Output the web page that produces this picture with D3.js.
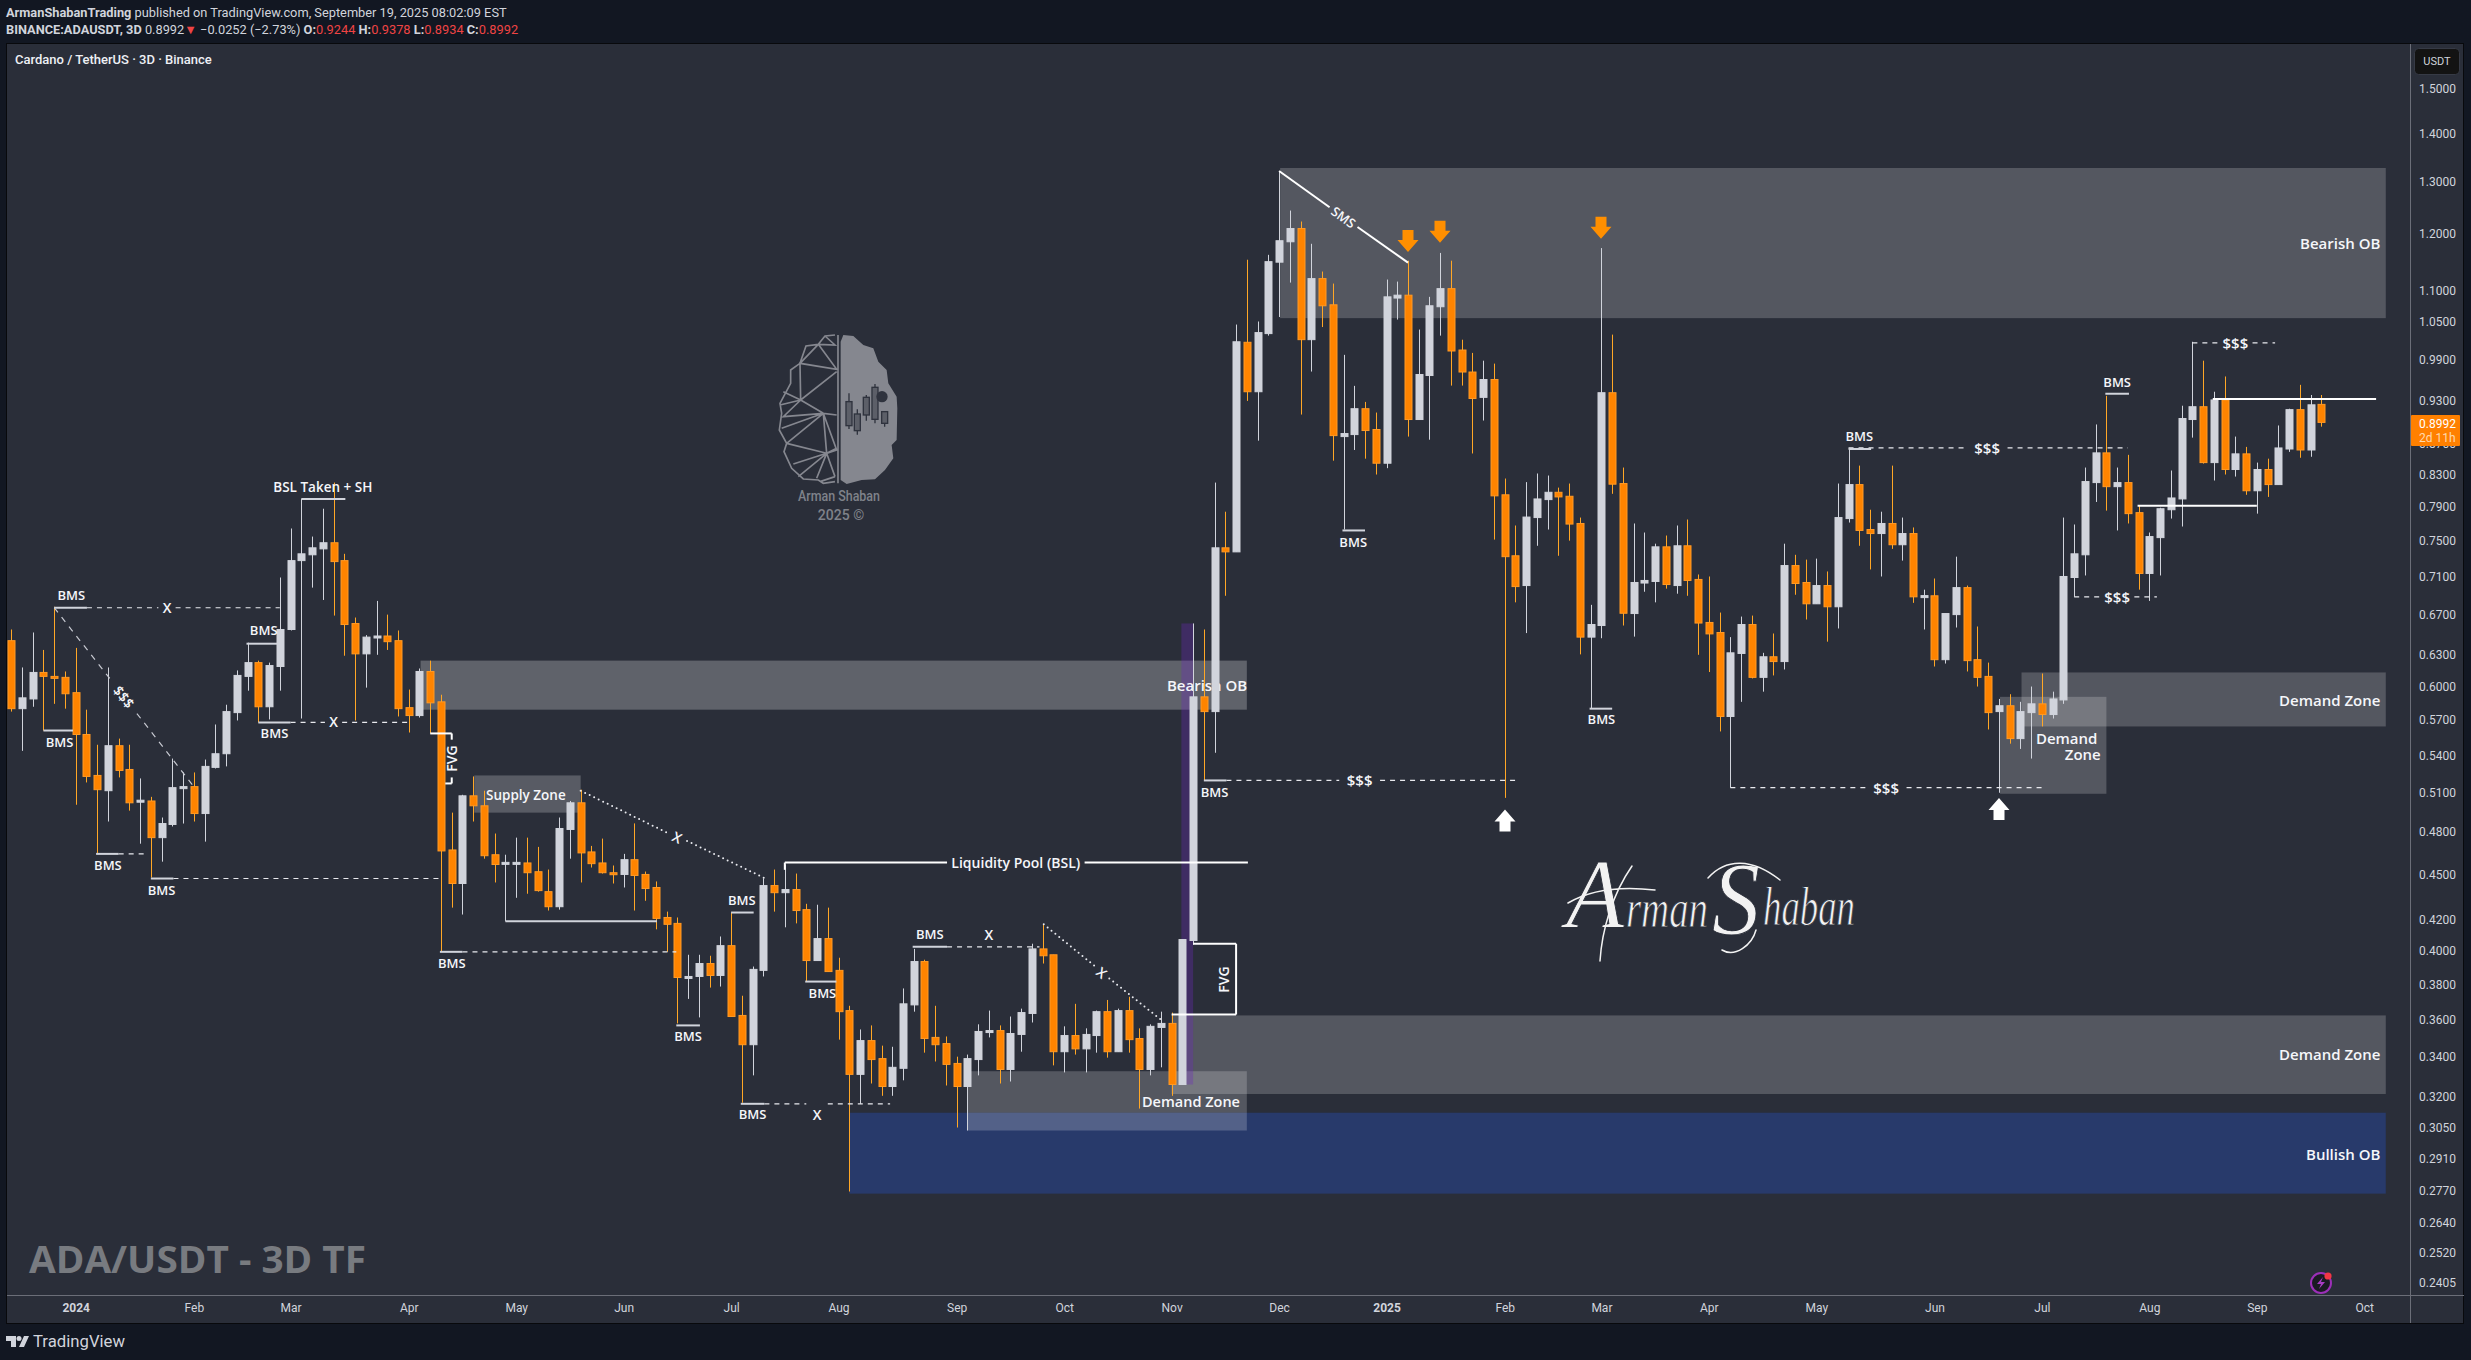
<!DOCTYPE html>
<html><head><meta charset="utf-8">
<script src="https://cdn.jsdelivr.net/npm/d3@7"></script>
<style>
html,body{margin:0;padding:0;background:#121722;overflow:hidden}
svg{display:block}
text{font-family:Roboto,sans-serif}
.lbl{font-family:"Open Sans",sans-serif;font-weight:600;fill:#f5f6fa}
.axis text{fill:#d1d4dc;font-size:12px;font-family:Roboto,sans-serif}
.axis path,.axis line{display:none}
</style></head><body>
<svg id="c" width="2471" height="1360"></svg>
<script>
const opens=[.6436,.5799,.5886,.6130,.6093,.6084,.5943,.5574,.5235,.5114,
.5479,.5283,.5034,.5034,.4759,.4856,.5130,.5146,.4938,.5300,
.5412,.5764,.6093,.6223,.5816,.6186,.6547,.7276,.7341,.7408,
.7478,.7276,.6607,.6307,.6478,.6482,.6436,.5808,.5738,.6139,
.5860,.4670,.4436,.5074,.4997,.4636,.4578,.4578,.4578,.4517,
.4381,.4281,.4819,.5020,.4656,.4578,.4510,.4498,.4601,.4498,
.4409,.4211,.4173,.3845,.3847,.3924,.3853,.4033,.3624,.3465,
.3883,.4422,.4374,.4395,.4262,.3942,.4077,.3883,.3651,.3311,
.3487,.3392,.3250,.3342,.3683,.3936,.3504,.3471,.3367,.3250,
.3387,.3536,.3541,.3336,.3520,.3635,.4013,.3977,.3428,.3514,
.3443,.3514,.3645,.3428,.3651,.3498,.3336,.3558,.3580,.3260,
.4065,.5905,.5773,.7420,.7374,1.0167,.9425,1.0303,1.1495,1.1860,
1.2103,1.0208,1.1209,1.0768,.8799,.8826,.9183,.8895,.8447,1.0880,
1.0928,.9032,.9662,1.0736,1.1038,1.0047,.9714,.9344,.9603,.8048,
.7330,.7003,.7772,.7989,.8079,.8030,.7702,.6471,.6587,.9411,
.8188,.6709,.7030,.7047,.7431,.7003,.7443,.7069,.6618,.6517,
.5730,.6311,.6597,.6084,.6279,.6233,.7221,.7036,.6810,.7003,
.6779,.7760,.8175,.7631,.7584,.7702,.7455,.7584,.6890,.6894,
.6251,.6698,.6981,.6251,.6093,.5773,.5825,.5539,.5764,.5842,
.5747,.5877,.7090,.7341,.8200,.8582,.8149,.8200,.7831,.7134,
.7537,.7866,.7997,.9032,.9211,.8455,.9307,.8366,.8569,.8098,
.8366,.8175,.8633,.9170,.8620,.9244];
const closes=[.5799,.5896,.6130,.6093,.6085,.5933,.5574,.5227,.5122,.5479,
.5275,.5020,.5040,.4759,.4863,.5138,.5146,.4938,.5308,.5412,
.5773,.6102,.6223,.5816,.6195,.6547,.7276,.7352,.7420,.7478,
.7265,.6597,.6307,.6471,.6482,.6426,.5799,.5738,.6139,.5851,
.4663,.4436,.5074,.4997,.4629,.4567,.4582,.4582,.4510,.4388,
.4281,.4826,.5020,.4649,.4573,.4510,.4498,.4601,.4491,.4402,
.4205,.4167,.3841,.3847,.3924,.3853,.4033,.3618,.3465,.3889,
.4422,.4374,.4395,.4256,.3942,.4077,.3876,.3645,.3311,.3487,
.3387,.3250,.3347,.3689,.3936,.3498,.3465,.3362,.3250,.3392,
.3536,.3541,.3336,.3525,.3640,.4013,.3971,.3428,.3514,.3443,
.3520,.3645,.3428,.3651,.3492,.3336,.3564,.3580,.3260,.4071,
.5905,.5773,.7420,.7374,1.0175,.9425,1.0319,1.1504,1.1879,1.2103,
1.0208,1.1209,1.0752,.8812,.8840,.9183,.8881,.8447,1.0900,1.0928,
.9032,.9677,1.0752,1.1038,1.0032,.9714,.9328,.9603,.8035,.7320,
.6992,.7778,.7997,.8079,.8022,.7695,.6471,.6597,.9411,.8180,
.6712,.7036,.7058,.7431,.7014,.7443,.7058,.6612,.6503,.5730,
.6317,.6597,.6084,.6279,.6233,.7221,.7025,.6810,.7003,.6779,
.7772,.8175,.7620,.7584,.7702,.7455,.7584,.6883,.6896,.6251,
.6709,.6981,.6242,.6084,.5764,.5825,.5539,.5773,.5842,.5747,
.5886,.7101,.7352,.8213,.8582,.8149,.8200,.7819,.7134,.7549,
.7878,.8009,.9046,.9211,.8455,.9307,.8366,.8569,.8098,.8366,
.8175,.8647,.9170,.8620,.9238,.8992];
const highs=[.6547,.6177,.6517,.6345,.6779,.6139,.6365,.5790,.5487,.6177,
.5539,.5487,.5211,.5066,.4908,.5372,.5259,.5259,.5364,.5660,
.5834,.6149,.6416,.6242,.6223,.7090,.7643,.7997,.7549,.7878,
.8200,.7352,.6668,.6491,.6840,.6698,.6537,.5971,.6167,.6242,
.5924,.4945,.5082,.5227,.5114,.4789,.4636,.4759,.4759,.4692,
.4532,.4908,.5034,.5122,.4699,.4752,.4560,.4642,.4864,.4518,
.4450,.4249,.4211,.3977,.3977,.3971,.4090,.4243,.3735,.3906,
.4470,.4532,.4567,.4504,.4300,.4294,.4275,.3959,.3678,.3547,
.3569,.3460,.3454,.3777,.4013,.3947,.3678,.3509,.3402,.3413,
.3575,.3651,.3569,.3618,.3662,.4045,.4167,.3977,.3564,.3689,
.3553,.3651,.3711,.3662,.3729,.3553,.3575,.3645,.3640,.4071,
.6608,.6547,.8200,.7842,1.0447,1.1538,1.0496,1.1625,1.3218,1.2441,
1.2234,1.1823,1.1331,1.1124,.9973,.9510,.9279,.9129,1.1193,1.1158,
1.1521,1.0367,1.0900,1.1659,1.1521,1.0207,1.0003,.9884,.9840,.8251,
.7678,.8206,.8315,.8289,.8137,.8188,.7772,.6799,1.1746,1.0287,
.8391,.7702,.7596,.7467,.7561,.7678,.7749,.7123,.7101,.6719,
.6471,.6678,.6688,.6317,.6507,.7467,.7341,.7287,.7298,.7156,
.8188,.8633,.8416,.7866,.7842,.8416,.7772,.7655,.6959,.7079,
.6709,.7320,.7003,.6577,.6223,.5886,.5929,.5860,.5999,.6120,
.5952,.7772,.7690,.8391,.8964,.9366,.8391,.8556,.7913,.7596,
.7890,.8353,.9225,1.0175,.9884,.9425,.9648,.8799,.8661,.8455,
.8506,.8950,.9183,.9525,.9378,.9378];
const lows=[.5773,.5436,.5816,.5608,.5842,.5799,.5005,.5179,.4642,.4878,
.5219,.4960,.4715,.4477,.4587,.4841,.4863,.4878,.4730,.5291,
.5308,.5695,.5961,.5678,.5704,.5961,.6537,.5712,.6981,.6850,
.6688,.6289,.5695,.5989,.6298,.6345,.5730,.5591,.5721,.5583,
.3995,.4275,.4230,.4878,.4608,.4443,.4186,.4340,.4367,.4381,
.4256,.4262,.4608,.4443,.4546,.4504,.4436,.4409,.4256,.4320,
.4135,.3995,.3580,.3717,.3613,.3782,.3788,.3618,.3170,.3306,
.3847,.4249,.4148,.4173,.3817,.3942,.3876,.3492,.2767,.3165,
.3265,.3204,.3204,.3281,.3645,.3423,.3377,.3255,.3052,.3038,
.3306,.3504,.3265,.3275,.3428,.3585,.3924,.3357,.3321,.3413,
.3321,.3423,.3397,.3428,.3423,.3142,.3306,.3347,.3204,.3260,
.4039,.5195,.5420,.6894,.7374,.9293,.8744,1.0271,1.0568,1.1141,
.9101,.9721,1.0407,.8480,.7631,.8620,.8506,.8302,.8383,1.0527,
.8799,.9032,.8757,1.0271,.9514,.9514,.8574,.9018,.7514,.5058,
.6825,.6511,.7443,.7631,.7330,.7502,.6302,.5799,.6460,.8060,
.6587,.6476,.6937,.6825,.6970,.6916,.6894,.6298,.6134,.5600,
.5138,.5860,.6074,.5952,.6102,.6158,.6905,.6648,.6810,.6426,
.6557,.7713,.7443,.7178,.7101,.7408,.7276,.6820,.6547,.6186,
.6214,.6567,.6139,.5999,.5617,.5098,.5496,.5452,.5372,.5643,
.5712,.5842,.6883,.7112,.7960,.7855,.7620,.7702,.6959,.6840,
.7112,.7760,.7666,.8785,.8442,.8226,.8302,.8276,.8048,.7819,
.8022,.8175,.8595,.8518,.8531,.8934];

const priceTicks=[1.5,1.4,1.3,1.2,1.1,1.05,.99,.93,.87,.83,.79,.75,.71,.67,.63,.6,.57,.54,.51,.48,.45,.42,.4,.38,.36,.34,.32,.305,.291,.277,.264,.252,.2405];
const monthLabels=["2024","Feb","Mar","Apr","May","Jun","Jul","Aug","Sep","Oct","Nov","Dec","2025","Feb","Mar","Apr","May","Jun","Jul","Aug","Sep","Oct"];
const monthBars=[6,17,26,37,47,57,67,77,88,98,108,118,128,139,148,158,168,179,189,199,209,219];

// zones: bar from, bar to, price top, price bottom, white opacity
const zones=[[118.1,221,1.328,1.055,.2],[38.1,115,.6242,.579,.25],[43.1,53,.5235,.4945,.22],[187.1,221,.613,.5643,.2],[185.1,195,.5905,.509,.2],[108,221,.3624,.3213,.2],[89,115,.3327,.3038,.2]];
const blueZone=[78,221,.3122,.2758];
const purpleBand=[109,110,.6608,.326];
// horizontal pieces: bar from, bar to, price
const bmsLines=[[4,7.05,.6769],[3,5.75,.5608],[7.9,10,.4642],[13,15.1,.447],[21.9,24.8,.6406],[23,26,.5678],[27,31.1,.7997],[46,60.1,.4186],[39.9,42,.3995],[61.9,64.1,.3569],[67,69.1,.4243],[67.9,70.1,.3165],[73.9,76.8,.3817],[83.9,87.1,.4026],[111,113.1,.5195],[123.9,126,.762],[146.9,149,.5799],[171,173.1,.8633],[194.9,197.1,.9396]];
const whiteLines=[[197.9,209,.7913],[204.9,220.1,.9322],[72,87.1,.4581],[99.9,115.1,.4581],[39,41,.5583],[40.4,41,.5171],[110,114,.4045],[108,114,.3629]];
const whiteVerticals=[[41,.5583,.553],[41,.5219,.5171],[114,.4045,.3629],[72,.4581,.4530]];
const dashLines=[[7.05,13.7,.6769],[15.3,25,.6769],[10,12.6,.4642],[15.1,40,.447],[26,29.2,.5678],[30.8,36.9,.5678],[42,61.9,.3995],[70.1,74,.3165],[76,81.8,.3165],[87.1,95.7,.4026],[113.1,123.6,.5195],[127.4,140,.5195],[160,172.6,.5138],[176.4,189.1,.5138],[171,182,.8647],[185.8,197,.8647],[192,194.4,.6883],[197.6,199.7,.6883],[203,205.4,1.0159],[208.6,210.7,1.0159]];
// sloped pieces: bar, price, bar, price
const dashSlopes=[[4,.6769,9.25,.6064],[11.7,.5756,17,.5146]];
const dotSlopes=[[53,.5114,61.2,.4789],[62.9,.4735,70.4,.4463],[96.1,.4167,100.9,.3906],[102.2,.3835,107.1,.3596]];
const smsSlopes=[[118,1.3218,122.7,1.2504],[125.3,1.2131,130,1.1487]];
// labels: text, bar, price, font size, anchor, rotation
const underLabels=[["Bearish OB",111.3,.6017,15,"middle",0]];
const labels=[
["BMS",5.6,.6905,13,"middle",0],["BMS",4.5,.5514,13,"middle",0],["BMS",9,.4567,13,"middle",0],["BMS",14,.4395,13,"middle",0],["BMS",23.5,.6537,13,"middle",0],["BMS",24.5,.5583,13,"middle",0],
["BMS",41,.393,13,"middle",0],["BMS",63,.3509,13,"middle",0],["BMS",68,.4326,13,"middle",0],["BMS",69,.3114,13,"middle",0],["BMS",75.5,.3752,13,"middle",0],["BMS",85.5,.4103,13,"middle",0],
["BMS",112,.5106,13,"middle",0],["BMS",124.9,.7484,13,"middle",0],["BMS",148,.5704,13,"middle",0],["BMS",172,.8812,13,"middle",0],["BMS",196,.9573,13,"middle",0],
["BSL Taken + SH",29,.8149,13.5,"middle",0],["X",14.5,.6775,14,"middle",0],["X",30,.5685,14,"middle",0],["X",75,.3114,14,"middle",0],["X",91,.4103,14,"middle",0],
["Supply Zone",47.9,.5082,13.5,"middle",0],["Liquidity Pool (BSL)",93.5,.4581,14,"middle",0],
["$$$",125.5,.5195,15,"middle",0],["$$$",174.5,.5138,15,"middle",0],["$$$",183.9,.8647,15,"middle",0],["$$$",196,.6883,15,"middle",0],["$$$",207,1.0159,15,"middle",0],
["Bearish OB",220.5,1.1842,15,"end",0],["Demand Zone",220.5,.5877,15,"end",0],["Demand Zone",220.5,.3418,15,"end",0],["Bullish OB",220.5,.2932,15,"end",0],
["Demand Zone",109.8,.3175,14.5,"middle",0],["Demand",191.3,.5548,15,"middle",0],["Zone",192.8,.5412,15,"middle",0],
["$$$",10.5,.5906,14,"middle",52],["X",62,.4762,14,"middle",25],["X",101.5,.3871,14,"middle",39],["SMS",124,1.2317,13,"middle",35.5],
["FVG",41,.5372,14,"middle",-90],["FVG",112.8,.3829,14,"middle",-90]];
const upArrows=[[139,.4968],[185,.5058]];
const downArrows=[[130,1.1677],[133,1.1842],[148,1.1916],];

const svg=d3.select("#c");
const x=d3.scaleLinear().domain([0,215]).range([11.2,2321.3]);
const y=d3.scaleLog().domain([1.5,.2405]).range([88.5,1283]);
const candles=opens.map((o,i)=>({i,o,h:highs[i],l:lows[i],c:closes[i]}));

svg.append("rect").attr("width",2471).attr("height",1360).attr("fill","#121722");
svg.append("rect").attr("x",6.5).attr("y",43.5).attr("width",2457).attr("height",1280).attr("fill","#2a2e39").attr("stroke","#08090c");

// header
const h1=svg.append("text").attr("x",6).attr("y",16.5).attr("font-size",12.8).attr("fill","#d1d4dc");
h1.append("tspan").attr("font-weight",700).text("ArmanShabanTrading");
h1.append("tspan").text(" published on TradingView.com, September 19, 2025 08:02:09 EST");
const h2=svg.append("text").attr("x",6).attr("y",34).attr("font-size",12.8).attr("fill","#d1d4dc");
h2.append("tspan").attr("font-weight",700).text("BINANCE:ADAUSDT, 3D");
h2.append("tspan").text("  0.8992");
h2.append("tspan").attr("fill","#ef4444").text("▼");
h2.append("tspan").text(" −0.0252 (−2.73%) ");
[["O:","0.9244"],["H:","0.9378"],["L:","0.8934"],["C:","0.8992"]].forEach(([a,b])=>{
  h2.append("tspan").attr("font-weight",700).text(a);
  h2.append("tspan").attr("fill","#ef4444").text(b+" ");
});
svg.append("text").attr("x",15).attr("y",64).attr("font-size",13).attr("font-weight",500).attr("fill","#eef0f5").text("Cardano / TetherUS · 3D · Binance");

// logo watermark
const logo=svg.append("g").attr("transform","translate(720,280) scale(0.3333)");
logo.append("path").attr("fill","#85878f").attr("d","M362 185L370 165L400 168L430 195L460 205L475 245L500 270L505 310L530 350L532 385L530 480L515 495L520 535L495 570L465 598L425 600L380 612L362 600Z");
logo.append("path").attr("fill","none").attr("stroke","#85878f").attr("stroke-width",5).attr("d","M345 165L315 168L295 193L258 198L240 250L212 270L212 310L180 370L185 400L178 450L200 490L192 515L215 565L250 597L295 600L310 610L345 605M295 193L350 268L240 250L242 360L350 275M258 198L295 193L240 250M315 168L345 195L295 193M242 360L190 335M242 360L180 375M242 360L190 410L310 400L350 405M242 360L310 400M310 400L185 445M310 400L200 490M310 400L350 510L320 520L310 400M200 490L320 520M320 520L350 505M320 520L220 552M320 520L235 590M320 520L290 595M320 520L345 590M300 605L345 590M354 165V610");
[[380,340,365,437,447],[405,388,402,452,464],[432,345,352,405,422],[458,312,322,418,430],[487,393,395,430,440]].forEach(([a,t,b0,b1,l])=>{
  logo.append("path").attr("fill","none").attr("stroke","#2f333e").attr("stroke-width",4).attr("d",`M${a+7} ${t}V${b0}M${a+7} ${b1}V${l}`);
  logo.append("rect").attr("x",a-2).attr("y",b0).attr("width",18).attr("height",b1-b0).attr("fill","#5c5f68").attr("stroke","#2f333e").attr("stroke-width",4);
});
logo.append("circle").attr("cx",486).attr("cy",350).attr("r",17).attr("fill","#2f333e");
svg.append("text").attr("x",839).attr("y",501).attr("text-anchor","middle").attr("font-size",14).attr("font-weight",500).attr("fill","#7f828a").attr("textLength",82).attr("lengthAdjust","spacingAndGlyphs").text("Arman Shaban");
svg.append("text").attr("x",841).attr("y",520).attr("text-anchor","middle").attr("font-size",14).attr("font-weight",500).attr("fill","#7f828a").text("2025 ©");

// zones
svg.append("g").selectAll("rect").data(zones).join("rect")
 .attr("x",d=>x(d[0])).attr("width",d=>x(d[1])-x(d[0])).attr("y",d=>y(d[2])).attr("height",d=>y(d[3])-y(d[2]))
 .attr("fill","#fff").attr("opacity",d=>d[4]);
svg.append("rect").attr("x",x(blueZone[0])).attr("width",x(blueZone[1])-x(blueZone[0])).attr("y",y(blueZone[2])).attr("height",y(blueZone[3])-y(blueZone[2])).attr("fill","#283a6b");
// re-lay the part of the small demand zone that overlaps the blue block
{const z=zones[6];const top=blueZone[2],bot=z[3];
 svg.append("rect").attr("x",x(z[0])).attr("width",x(z[1])-x(z[0])).attr("y",y(top)).attr("height",y(bot)-y(top)).attr("fill","#fff").attr("opacity",z[4]);}
svg.append("rect").attr("x",x(purpleBand[0])-1).attr("width",x(purpleBand[1])-x(purpleBand[0])+1).attr("y",y(purpleBand[2])).attr("height",y(purpleBand[3])-y(purpleBand[2])).attr("fill","#6e28be").attr("opacity",.32);

function putLabels(list){
 svg.append("g").selectAll("text").data(list).join("text").attr("class","lbl")
  .attr("font-size",d=>d[3]).attr("text-anchor",d=>d[4]).attr("dominant-baseline","central")
  .attr("transform",d=>`translate(${x(d[1])},${y(d[2])}) rotate(${d[5]})`).text(d=>d[0]);
}
putLabels(underLabels);

// candles
const cg=svg.append("g").selectAll("g").data(candles).join("g");
cg.append("line").attr("x1",d=>Math.round(x(d.i))+.5).attr("x2",d=>Math.round(x(d.i))+.5)
 .attr("y1",d=>y(d.h)).attr("y2",d=>y(d.l)).attr("stroke",d=>d.c>=d.o?"#d1d4dc":"#ffa726").attr("stroke-width",1);
cg.append("rect").attr("x",d=>Math.round(x(d.i))-3).attr("width",7)
 .attr("y",d=>y(Math.max(d.o,d.c))).attr("height",d=>Math.max(2,y(Math.min(d.o,d.c))-y(Math.max(d.o,d.c))))
 .attr("fill",d=>d.c>=d.o?"#d1d4dc":"#ff8400").attr("stroke",d=>d.c>=d.o?"#d1d4dc":"#ff9a26").attr("stroke-width",1);

// drawings
const hl=(data,col,w,dash,op)=>svg.append("g").selectAll("line").data(data).join("line")
 .attr("x1",d=>x(d[0])).attr("x2",d=>x(d[1])).attr("y1",d=>y(d[2])).attr("y2",d=>y(d[2]))
 .attr("stroke",col).attr("stroke-width",w).attr("stroke-dasharray",dash).attr("opacity",op||1);
hl(dashLines,"#e8e9ee",1.2,"5 5");
hl(bmsLines,"#d1d4dc",2);
hl(whiteLines,"#fff",2);
svg.append("g").selectAll("line").data(whiteVerticals).join("line")
 .attr("x1",d=>x(d[0])).attr("x2",d=>x(d[0])).attr("y1",d=>y(d[1])).attr("y2",d=>y(d[2])).attr("stroke","#fff").attr("stroke-width",2);
const sl=(data,col,w,dash,cap)=>svg.append("g").selectAll("line").data(data).join("line")
 .attr("x1",d=>x(d[0])).attr("y1",d=>y(d[1])).attr("x2",d=>x(d[2])).attr("y2",d=>y(d[3]))
 .attr("stroke",col).attr("stroke-width",w).attr("stroke-dasharray",dash).attr("stroke-linecap",cap||"butt");
sl(dashSlopes,"#c8cad2",1.2,"6 6");
sl(dotSlopes,"#e8e9ee",2,"0 5","round");
sl(smsSlopes,"#fff",2);
putLabels(labels);

// arrows
svg.append("g").selectAll("path").data(upArrows).join("path").attr("fill","#fff")
 .attr("d",d=>{const a=Math.round(x(d[0])),b=y(d[1]);return `M${a} ${b}L${a+10.5} ${b+12}H${a+5.5}V${b+22}H${a-5.5}V${b+12}H${a-10.5}Z`;});
svg.append("g").selectAll("path").data(downArrows).join("path").attr("fill","#ff8f00")
 .attr("d",d=>{const a=Math.round(x(d[0])),b=y(d[1]);return `M${a} ${b}L${a+10.5} ${b-12}H${a+5.5}V${b-22}H${a-5.5}V${b-12}H${a-10.5}Z`;});

// signature (real text, thinned by a background-coloured stroke, with swashes)
const sigParts=[["A",1566,928,100,58],["rman",1626,927,54,82],["S",1712,934,104,48],["haban",1763,925,54,92]];
svg.append("g").selectAll("text").data(sigParts).join("text")
 .style("font-family",'"Liberation Serif",serif').style("font-style","italic")
 .attr("x",d=>d[1]).attr("y",d=>d[2]).attr("font-size",d=>d[3]).attr("textLength",d=>d[4]).attr("lengthAdjust","spacingAndGlyphs")
 .attr("fill","#f2f2f2").attr("stroke","#2a2e39").attr("stroke-width",.9).text(d=>d[0]);
svg.append("path").attr("fill","none").attr("stroke","#f2f2f2").attr("stroke-width",1.5).attr("stroke-linecap","round")
 .attr("d","M1568 903C1590 890,1620 886,1655 890M1600 961C1602 930,1612 895,1632 866M1708 878C1726 858,1752 858,1780 880M1722 950C1735 958,1752 945,1756 930");

// axes lines
svg.append("line").attr("x1",7).attr("x2",2464).attr("y1",1295.5).attr("y2",1295.5).attr("stroke","#6b6e78");
svg.append("line").attr("x1",2410.5).attr("x2",2410.5).attr("y1",44).attr("y2",1323).attr("stroke","#6b6e78");

const ax=svg.append("g").attr("class","axis").attr("transform","translate(0,1295)")
 .call(d3.axisBottom(x).tickValues(monthBars).tickSize(0).tickPadding(8).tickFormat((d,i)=>monthLabels[i]));
ax.selectAll("text").attr("font-weight",(d,i)=>/^20/.test(monthLabels[i])?700:400);
svg.append("g").attr("class","axis").attr("transform","translate(2410,0)")
 .call(d3.axisRight(y).tickValues(priceTicks).tickSize(0).tickPadding(9).tickFormat(d3.format(".4f")));

// last price tag + unit button
svg.append("rect").attr("x",2411).attr("y",415).attr("width",49).attr("height",31).attr("rx",1).attr("fill","#ff8000");
svg.append("text").attr("x",2419).attr("y",427.5).attr("font-size",12).attr("fill","#fff").text("0.8992");
svg.append("text").attr("x",2419).attr("y",442).attr("font-size",12).attr("fill","#ffd9ad").text("2d 11h");
svg.append("rect").attr("x",2414.5).attr("y",48.5).attr("width",45).attr("height",26).attr("rx",4).attr("fill","#131313").attr("stroke","#363a45");
svg.append("text").attr("x",2437).attr("y",65).attr("text-anchor","middle").attr("font-size",11).attr("fill","#d1d4dc").text("USDT");

// big corner text
svg.append("text").attr("x",29).attr("y",1273).style("font-family",'"Open Sans",sans-serif').attr("font-size",38).attr("font-weight",700).attr("fill","#787b80").attr("textLength",337).attr("lengthAdjust","spacingAndGlyphs").text("ADA/USDT - 3D TF");

// bolt badge
const bolt=svg.append("g").attr("transform","translate(2321,1283)");
bolt.append("circle").attr("r",10).attr("fill","#1a1a22").attr("stroke","#9c2fb8").attr("stroke-width",2);
bolt.append("path").attr("d","M2 -6L-4 1H0L-2 6L4 -1H0Z").attr("fill","#a83cc4");
bolt.append("circle").attr("cx",7).attr("cy",-7).attr("r",3.6).attr("fill","#f23645");

// TradingView footer
svg.append("path").attr("fill","#d1d4dc").attr("d","M6 1336H16V1347H11V1341H6ZM24 1336H29L24 1347H19Z");
svg.append("circle").attr("cx",19).attr("cy",1338.5).attr("r",2.5).attr("fill","#d1d4dc");
svg.append("text").attr("x",33).attr("y",1347).attr("font-size",16).attr("fill","#d1d4dc").attr("textLength",92).attr("lengthAdjust","spacingAndGlyphs").text("TradingView");
</script>
</body></html>
